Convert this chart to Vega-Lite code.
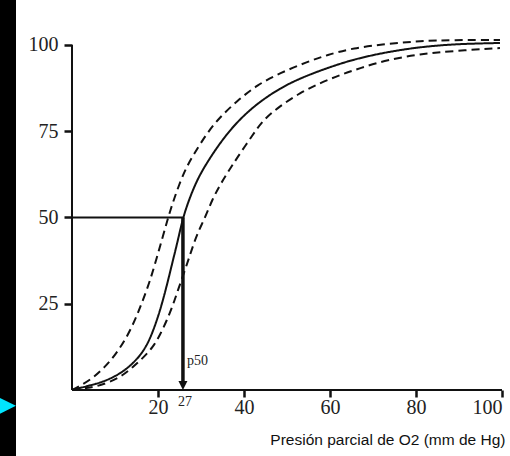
{
  "$schema": "https://vega.github.io/schema/vega-lite/v6.json",
  "width": 494,
  "height": 456,
  "autosize": {"type": "none"},
  "padding": {"left": 16, "top": 0, "right": 0, "bottom": 0},
  "background": "black",
  "config": {"view": {"fill": "white", "stroke": null}},
  "datasets": {
    "curvas": [
      {"x": 0, "y": 0, "serie": "media"},
      {"x": 3.72, "y": 1.16, "serie": "media"},
      {"x": 7.21, "y": 2.32, "serie": "media"},
      {"x": 10.7, "y": 4.35, "serie": "media"},
      {"x": 13.49, "y": 6.9, "serie": "media"},
      {"x": 15.81, "y": 9.9, "serie": "media"},
      {"x": 17.44, "y": 13.0, "serie": "media"},
      {"x": 18.84, "y": 17.0, "serie": "media"},
      {"x": 20.47, "y": 22.9, "serie": "media"},
      {"x": 22.09, "y": 30.43, "serie": "media"},
      {"x": 23.49, "y": 37.68, "serie": "media"},
      {"x": 24.65, "y": 43.48, "serie": "media"},
      {"x": 25.8, "y": 50, "serie": "media"},
      {"x": 27.44, "y": 55.94, "serie": "media"},
      {"x": 29.3, "y": 61.45, "serie": "media"},
      {"x": 31.63, "y": 66.38, "serie": "media"},
      {"x": 34.42, "y": 71.59, "serie": "media"},
      {"x": 37.91, "y": 77.1, "serie": "media"},
      {"x": 42.56, "y": 82.61, "serie": "media"},
      {"x": 48.37, "y": 87.54, "serie": "media"},
      {"x": 53.72, "y": 90.72, "serie": "media"},
      {"x": 60.0, "y": 93.62, "serie": "media"},
      {"x": 65.81, "y": 95.94, "serie": "media"},
      {"x": 73.26, "y": 97.97, "serie": "media"},
      {"x": 80.93, "y": 99.42, "serie": "media"},
      {"x": 89.07, "y": 100.29, "serie": "media"},
      {"x": 99.53, "y": 100.58, "serie": "media"},
      {"x": 0, "y": 0, "serie": "izquierda"},
      {"x": 1.86, "y": 1.16, "serie": "izquierda"},
      {"x": 4.88, "y": 3.48, "serie": "izquierda"},
      {"x": 7.67, "y": 6.67, "serie": "izquierda"},
      {"x": 10.23, "y": 10.43, "serie": "izquierda"},
      {"x": 12.79, "y": 15.36, "serie": "izquierda"},
      {"x": 14.88, "y": 20.87, "serie": "izquierda"},
      {"x": 16.51, "y": 26.09, "serie": "izquierda"},
      {"x": 18.14, "y": 31.59, "serie": "izquierda"},
      {"x": 19.77, "y": 38.55, "serie": "izquierda"},
      {"x": 21.16, "y": 44.64, "serie": "izquierda"},
      {"x": 22.33, "y": 49.86, "serie": "izquierda"},
      {"x": 23.49, "y": 54.49, "serie": "izquierda"},
      {"x": 24.88, "y": 59.42, "serie": "izquierda"},
      {"x": 26.51, "y": 64.35, "serie": "izquierda"},
      {"x": 28.37, "y": 68.41, "serie": "izquierda"},
      {"x": 31.4, "y": 74.49, "serie": "izquierda"},
      {"x": 34.42, "y": 79.13, "serie": "izquierda"},
      {"x": 38.37, "y": 83.77, "serie": "izquierda"},
      {"x": 43.02, "y": 88.41, "serie": "izquierda"},
      {"x": 48.37, "y": 91.88, "serie": "izquierda"},
      {"x": 54.65, "y": 95.07, "serie": "izquierda"},
      {"x": 59.3, "y": 97.1, "serie": "izquierda"},
      {"x": 65.35, "y": 99.13, "serie": "izquierda"},
      {"x": 73.26, "y": 100.29, "serie": "izquierda"},
      {"x": 80.93, "y": 101.16, "serie": "izquierda"},
      {"x": 88.6, "y": 101.45, "serie": "izquierda"},
      {"x": 99.53, "y": 101.45, "serie": "izquierda"},
      {"x": 0, "y": 0, "serie": "derecha"},
      {"x": 3.02, "y": 0.58, "serie": "derecha"},
      {"x": 5.35, "y": 0.87, "serie": "derecha"},
      {"x": 8.84, "y": 2.32, "serie": "derecha"},
      {"x": 11.63, "y": 4.06, "serie": "derecha"},
      {"x": 14.19, "y": 6.67, "serie": "derecha"},
      {"x": 16.51, "y": 9.28, "serie": "derecha"},
      {"x": 18.84, "y": 12.46, "serie": "derecha"},
      {"x": 20.47, "y": 15.94, "serie": "derecha"},
      {"x": 22.09, "y": 20.29, "serie": "derecha"},
      {"x": 23.49, "y": 24.64, "serie": "derecha"},
      {"x": 24.65, "y": 28.99, "serie": "derecha"},
      {"x": 26.28, "y": 34.78, "serie": "derecha"},
      {"x": 27.67, "y": 40.0, "serie": "derecha"},
      {"x": 29.07, "y": 45.22, "serie": "derecha"},
      {"x": 30.93, "y": 49.86, "serie": "derecha"},
      {"x": 32.56, "y": 55.07, "serie": "derecha"},
      {"x": 34.42, "y": 59.42, "serie": "derecha"},
      {"x": 36.28, "y": 63.19, "serie": "derecha"},
      {"x": 38.37, "y": 67.25, "serie": "derecha"},
      {"x": 41.86, "y": 73.62, "serie": "derecha"},
      {"x": 44.42, "y": 78.26, "serie": "derecha"},
      {"x": 48.37, "y": 82.32, "serie": "derecha"},
      {"x": 53.02, "y": 86.09, "serie": "derecha"},
      {"x": 57.67, "y": 88.99, "serie": "derecha"},
      {"x": 62.33, "y": 91.3, "serie": "derecha"},
      {"x": 67.0, "y": 93.33, "serie": "derecha"},
      {"x": 73.26, "y": 95.65, "serie": "derecha"},
      {"x": 80.93, "y": 97.39, "serie": "derecha"},
      {"x": 88.6, "y": 98.26, "serie": "derecha"},
      {"x": 99.53, "y": 99.13, "serie": "derecha"}
    ],
    "ejes": [
      {"x": 0, "y": 0, "x2": 100, "y2": 0},
      {"x": 0, "y": 0, "x2": 0, "y2": 100}
    ],
    "guia": [{"x": 0, "y": 50, "x2": 25.8, "y2": 50}],
    "flecha": [{"x": 25.8, "y": 50, "x2": 25.8, "y2": 2}],
    "punta": [{"x": 25.8, "y": 0}],
    "p50": [{"x": 25.8, "y": 7.2, "texto": "p50"}],
    "p50valor": [{"x": 25.8, "y": -4.6, "texto": "27"}],
    "marcador": [{"x": -14.9, "y": -4.6}]
  },
  "encoding": {
    "x": {
      "field": "x",
      "type": "quantitative",
      "scale": {"domain": [-13.023, 101.86], "nice": false, "zero": false},
      "axis": {
        "orient": "bottom",
        "offset": -66,
        "domain": false,
        "grid": false,
        "values": [20, 40, 60, 80, 100],
        "tickSize": 7,
        "tickWidth": 2.5,
        "tickColor": "#111",
        "labelFont": "Liberation Serif",
        "labelFontSize": 20,
        "labelColor": "#222",
        "labelPadding": 0,
        "labelAlign": {"condition": {"test": "datum.value == 100", "value": "right"}, "value": "center"},
        "title": "Presión parcial de O2 (mm de Hg)",
        "titleFont": "Liberation Sans",
        "titleFontSize": 15.5,
        "titleFontWeight": "normal",
        "titleColor": "#111",
        "titleAlign": "right",
        "titleAnchor": "end",
        "titleX": 489,
        "titleY": 54,
        "titleBaseline": "alphabetic"
      }
    },
    "y": {
      "field": "y",
      "type": "quantitative",
      "scale": {"domain": [-19.13, 113.04], "nice": false, "zero": false},
      "axis": {
        "orient": "left",
        "offset": -56,
        "domain": false,
        "grid": false,
        "values": [25, 50, 75, 100],
        "tickSize": 8,
        "tickWidth": 2.5,
        "tickColor": "#111",
        "labelFont": "Liberation Serif",
        "labelFontSize": 20,
        "labelColor": "#222",
        "labelPadding": 6,
        "title": null
      }
    }
  },
  "layer": [
    {
      "data": {"name": "curvas"},
      "mark": {"type": "line", "strokeWidth": 2, "color": "#111", "interpolate": "basis"},
      "encoding": {
        "detail": {"field": "serie"},
        "strokeDash": {
          "field": "serie",
          "type": "nominal",
          "scale": {"domain": ["media", "izquierda", "derecha"], "range": [[1, 0], [8, 5], [8, 5]]},
          "legend": null
        }
      }
    },
    {
      "data": {"name": "ejes"},
      "mark": {"type": "rule", "strokeWidth": 2, "color": "#111"},
      "encoding": {"x2": {"field": "x2"}, "y2": {"field": "y2"}}
    },
    {
      "data": {"name": "guia"},
      "mark": {"type": "rule", "strokeWidth": 2, "color": "#111"},
      "encoding": {"x2": {"field": "x2"}, "y2": {"field": "y2"}}
    },
    {
      "data": {"name": "flecha"},
      "mark": {"type": "rule", "strokeWidth": 3.5, "color": "#111"},
      "encoding": {"x2": {"field": "x2"}, "y2": {"field": "y2"}}
    },
    {
      "data": {"name": "punta"},
      "mark": {"type": "point", "shape": "M-1,-2L1,-2L0,0Z", "size": 81, "filled": true, "color": "#111", "opacity": 1}
    },
    {
      "data": {"name": "p50"},
      "mark": {"type": "text", "font": "Liberation Serif", "fontSize": 14, "align": "left", "baseline": "alphabetic", "dx": 4, "color": "#222"},
      "encoding": {"text": {"field": "texto"}}
    },
    {
      "data": {"name": "p50valor"},
      "mark": {"type": "text", "font": "Liberation Serif", "fontSize": 14, "align": "center", "baseline": "alphabetic", "dx": 2, "color": "#222"},
      "encoding": {"text": {"field": "texto"}}
    },
    {
      "data": {"name": "marcador"},
      "mark": {"type": "point", "shape": "M-1,-1L1,0L-1,1Z", "size": 256, "filled": true, "color": "#00e5ff", "opacity": 1}
    }
  ]
}
